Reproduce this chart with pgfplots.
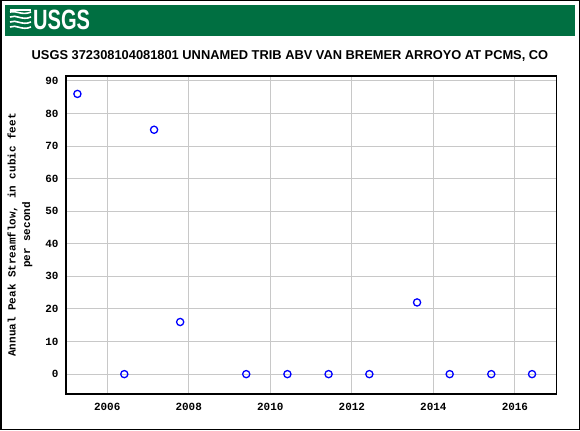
\documentclass[border=0pt]{standalone}
\usepackage{pgfplots}
\pgfplotsset{compat=1.18}
\usepackage{fontspec}
\setmainfont{Liberation Sans}
\setmonofont{Liberation Mono}
\definecolor{usgsgreen}{RGB}{0,111,65}
\definecolor{gridgray}{RGB}{200,200,200}
\begin{document}
\begin{tikzpicture}[x=1bp,y=1bp]
% outer frame
\draw[line width=1.5bp] (0.75,0.75) rectangle (579.25,429.25);
% banner
\fill[usgsgreen] (5,394) rectangle (575,425);
\begin{scope}[white, line width=1.6bp]
  \draw (10,418) .. controls (16,420) and (22,414) .. (31,418);
  \draw (10,413) .. controls (16,416) and (22,409) .. (31,413);
  \draw (10,408) .. controls (16,411) and (22,404) .. (31,408);
  \draw (10,403) .. controls (16,406) and (22,399) .. (31,403);
  \fill (10,419) rectangle (31,421);
\end{scope}
\node[anchor=base west, inner sep=0, text=white, font=\fontsize{28}{30}\selectfont\bfseries, xscale=0.72] at (33,400) {USGS};
% title
\node[anchor=base, inner sep=0, font=\fontsize{12.9}{15}\selectfont\bfseries] at (290,371) {USGS 372308104081801 UNNAMED TRIB ABV VAN BREMER ARROYO AT PCMS, CO};
% y label
\node[rotate=90, align=center, inner sep=0, font=\ttfamily\bfseries\fontsize{11}{14.5}\selectfont] at (20,195) {Annual Peak Streamflow, in cubic feet\\per second};
\begin{axis}[
  at={(66bp,36bp)}, anchor=south west,
  scale only axis, width=490.5bp, height=318bp,
  xmin=2004.99, xmax=2017.02,
  ymin=-6.1, ymax=91.5,
  xtick={2006,2008,...,2016},
  ytick={0,10,...,90},
  grid=major,
  major grid style={gridgray, line width=1bp},
  axis line style={black, line width=1.3bp},
  tick style={draw=none},
  major tick length=0pt,
  /pgf/number format/assume math mode=true,
  /pgf/number format/1000 sep={},
  tick label style={font=\ttfamily\bfseries\fontsize{11}{13}\selectfont},
  xticklabel style={yshift=-6bp},
  yticklabel style={xshift=-4bp},
  axis on top=false,
]
\addplot[only marks, mark=o, mark size=3.6bp, blue, mark options={line width=1.3bp}] coordinates {
  (2005.27,86) (2006.42,0) (2007.15,75) (2007.79,16) (2009.41,0)
  (2010.42,0) (2011.43,0) (2012.43,0) (2013.60,22) (2014.40,0)
  (2015.42,0) (2016.42,0)
};
\end{axis}
\pgfresetboundingbox
\useasboundingbox (0,0) rectangle (580,430);
\end{tikzpicture}
\end{document}
